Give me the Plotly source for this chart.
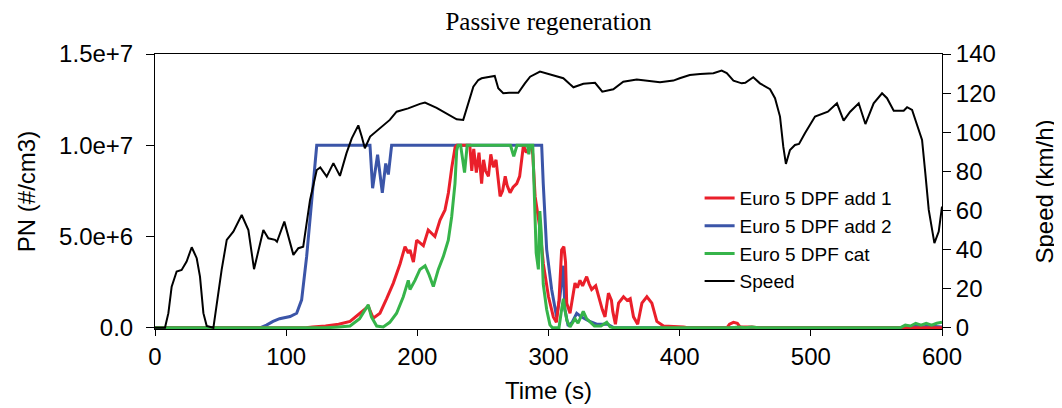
import plotly.graph_objects as go

# ---------------- data ----------------
speed_t = [0, 7.6, 10.2, 12.7, 16.5, 20.3, 24.1, 28, 31.8, 34.3, 36.9, 39.4, 44.5, 47, 50.8, 54.7,
           59.7, 66.1, 71.2, 75.5, 82.6, 86.4, 91.5, 93, 98.6, 105.5, 109.3, 113, 118.2, 123.3, 126,
           130.9, 136, 141, 146, 150, 155, 157.6, 160, 164, 171.5, 179, 184.2, 193, 202, 205.8,
           214.7, 222.4, 230, 235, 238.9, 242.7, 246.5, 249, 255.4, 259, 261.7, 265.5, 270, 277,
           282, 286, 293.5, 301, 311.3, 316.4, 319, 326.6, 335.5, 341, 349.4, 357, 367.3, 385,
           395.2, 400, 407.7, 415.6, 425.7, 432, 435.9, 441, 447.3, 450, 456.1, 461.2, 468.9, 472.7,
           476.5, 479, 481, 484.1, 487.9, 491, 495.5, 503.2, 509.5, 513, 519.9, 525, 530, 536.5,
           541.6, 547.9, 554.3, 558.1, 563.2, 570.8, 573.4, 577.2, 581, 584.8, 587.3, 589.9, 594.2,
           597.5, 600]
speed_v = [0, 0, 7.5, 21, 28.8, 29.6, 33.9, 41.2, 35.6, 26.2, 7.5, 1, 0, 12.6, 29.6, 45,
           49.2, 57.7, 50, 30, 50, 45.8, 45, 44, 54.3, 37.3, 40.7, 41.5, 65.4, 80.7, 82,
           77.3, 84.2, 77.7, 89.3, 96.9, 103.5, 97.8, 91.8, 97.8, 102, 106.3, 110.5, 112.2, 114.5, 115.2,
           112.5, 109.7, 106.6, 106.3, 115.6, 123.3, 126.7, 127.6, 128.4, 128.8, 122.5, 119.9, 120.2, 120.2,
           125, 128.4, 131, 129.6, 127.6, 124.5, 123, 124.8, 125.3, 120.7, 122, 125.8, 127, 125.6,
           126.4, 127.6, 129.3, 129.8, 130.2, 131.5, 130.2, 126.4, 125, 125.3, 128.1, 125, 122, 117.4,
           108, 92.6, 83.8, 90.9, 93.5, 94, 99.5, 108, 109.7, 110.5, 114.8, 105.9, 110.5, 114.8,
           104.2, 114.8, 119.9, 117.4, 111, 111, 112.8, 111.4, 103.7, 96.1, 79, 60.3, 43.3,
           49.2, 62]

add2_t = [0, 80, 85, 90, 95, 100, 103, 108, 111.8, 115.6, 119.5, 123.3, 163.9, 165.9, 169.7, 173.3,
          175.9, 177.9, 180.4, 294.8, 296, 298.6, 302.4, 306.2, 308.7, 310.7, 311.3, 312.5, 315,
          318, 321.5, 325, 330, 336.7, 345, 350, 575, 580, 585, 590, 595, 600]
add2_pn = [0, 0, 0.15, 0.35, 0.5, 0.6, 0.62, 0.8, 1.53, 3.9, 7.0, 10, 10, 7.65, 9.48, 7.4,
           9.0, 8.4, 10, 10, 7.9, 4.3, 2.1, 0.6, 1.7, 3.2, 3.4, 1.0, 0.1,
           0.3, 0.8, 0.6, 0.4, 0.2, 0.2, 0, 0, 0.1, 0.05, 0.1, 0.08, 0.05]

add1_t = [0, 115, 120, 130, 140, 148.7, 156.3, 162.6, 166.4, 171.5, 176.6, 181.7, 186.8, 190.6, 193.1,
          194.4, 197, 199.5, 204.6, 208.3, 213.4, 217.3, 221.1, 223.7, 226.3, 228.8, 230, 240, 241.5,
          243, 245, 247, 249, 250.5, 252, 254.2, 256, 258, 260, 263.1, 265, 267, 268.5, 270.7, 273,
          275.8, 278, 280.9, 283, 287, 288, 289.8, 293.6, 296.1, 300, 303.7, 306, 308, 310, 311.7,
          313, 313.9, 316.4, 320.2, 322, 324, 326, 329.1, 331, 332.9, 336, 339.3, 341, 343.1, 345.7,
          348, 349, 351, 353.4, 357.2, 360, 362.3, 364.8, 368, 371.2, 375, 378.8, 382.6, 387.7, 403,
          406, 436, 438, 441, 444, 446, 455, 460, 600]
add1_pn = [0, 0, 0.05, 0.1, 0.2, 0.35, 0.8, 1.17, 0.53, 0.8, 1.6, 2.45, 3.5, 4.45, 4.1,
           4.27, 3.6, 4.8, 4.5, 5.36, 5.0, 5.9, 6.46, 7.4, 8.8, 9.9, 10, 10, 8.6,
           9.8, 8.5, 9.6, 7.9, 9.2, 8.6, 8.3, 9.5, 8.8, 9.2, 7.2, 7.5, 8.3, 7.8, 7.4, 7.7,
           7.9, 8.3, 10, 9.6, 10, 9.5, 7.2, 5.36, 3.5, 1.7, 0.6, 0.3, 1.5, 4.27, 4.45,
           3.6, 1.35, 0.8, 2.45, 2.2, 2.6, 2.3, 2.8, 2.4, 2.1, 2.3, 1.35, 1.0, 0.6, 1.9,
           1.5, 0.9, 0.2, 1.35, 1.7, 1.5, 1.6, 0.6, 0.2, 1.35, 1.7, 1.35, 0.35, 0.1, 0.05,
           0, 0, 0.2, 0.3, 0.25, 0.05, 0.05, 0, 0]

cat_t = [0, 130, 140, 148.7, 156, 162.6, 165, 169, 174, 179, 184.2, 189.3, 193.1, 194.4, 198.2,
         202, 205.9, 209, 212.2, 216, 219.8, 223.6, 226.2, 228.7, 230, 231, 233, 236, 238, 271,
         273.5, 276, 284, 285, 286, 288, 289.1, 290.6, 292.3, 293.4, 294.5, 296, 298.6, 301.1, 303,
         308, 310, 311.3, 312.5, 314, 316.4, 320.2, 322.5, 326.5, 329, 331.7, 335, 340, 344.4, 347,
         350, 440, 445, 450, 455, 460, 568, 572, 576, 580, 584, 588, 592, 596, 600]
cat_pn = [0, 0, 0.05, 0.1, 0.5, 1.26, 0.6, 0.1, 0.05, 0.3, 0.8, 1.7, 2.6, 2.1, 2.6,
          3.2, 3.4, 2.9, 2.26, 3.2, 3.9, 4.8, 6.1, 7.9, 9.7, 10, 10, 8.5, 10, 10,
          9.4, 10, 10, 9.5, 10, 10, 7.56, 4.1, 3.2, 6.4, 5.2, 2.4, 1.0, 0.16, 0,
          0, 1.0, 1.6, 1.0, 0.4, 0.05, 0.5, 0.25, 0.9, 0.5, 0.3, 0.1, 0.1, 0.3, 0.05,
          0, 0, 0.05, 0, 0.05, 0, 0, 0.15, 0.1, 0.25, 0.15, 0.25, 0.15, 0.25, 0.3]

x_ticks = [0, 100, 200, 300, 400, 500, 600]
pn_ticks = [0, 5e6, 1e7, 1.5e7]
pn_tick_labels = ["0.0", "5.0e+6", "1.0e+7", "1.5e+7"]
speed_ticks = [0, 20, 40, 60, 80, 100, 120, 140]

RED = "#ea1f2a"
BLUE = "#3b55a8"
GREEN = "#36b44a"

fig = go.Figure()
fig.add_trace(go.Scatter(x=add2_t, y=[v * 1e6 for v in add2_pn], mode="lines", name="Euro 5 DPF add 2",
                         line=dict(color=BLUE, width=3), legendrank=2))
fig.add_trace(go.Scatter(x=add1_t, y=[v * 1e6 for v in add1_pn], mode="lines", name="Euro 5 DPF add 1",
                         line=dict(color=RED, width=3), legendrank=1))
fig.add_trace(go.Scatter(x=cat_t, y=[v * 1e6 for v in cat_pn], mode="lines", name="Euro 5 DPF cat",
                         line=dict(color=GREEN, width=3), legendrank=3))
fig.add_trace(go.Scatter(x=speed_t, y=speed_v, mode="lines", name="Speed", yaxis="y2",
                         line=dict(color="black", width=2), legendrank=4))

font_s = "Liberation Sans, Arial, sans-serif"

# the page body has an 8px default margin, so the figure is offset by 8px
fig.update_layout(
    width=1062, height=408,
    margin=dict(l=147, r=128, t=46, b=87, autoexpand=False),
    paper_bgcolor="white", plot_bgcolor="white",
    showlegend=True,
    title=dict(text="Passive regeneration", x=0.5, xref="paper", xanchor="center",
               y=0.968, yref="container", yanchor="middle",
               font=dict(family="Liberation Serif, Times New Roman, serif", size=25, color="black")),
    font=dict(family=font_s, size=24, color="black"),
    legend=dict(x=0.692, y=0.545, xanchor="left", yanchor="top", bgcolor="rgba(0,0,0,0)",
                font=dict(family=font_s, size=19, color="black"), tracegroupgap=0),
    xaxis=dict(range=[0, 600], tickvals=x_ticks, ticks="outside", ticklen=6, tickcolor="black",
               showline=True, linecolor="black", linewidth=1, mirror=True, showgrid=False,
               zeroline=False, automargin=False,
               title=dict(text="Time (s)", standoff=13, font=dict(size=24)),
               tickfont=dict(size=24)),
    yaxis=dict(range=[-0.6 * 1.5e7 / 140, 1.5e7], tickvals=pn_ticks, ticktext=pn_tick_labels,
               ticks="outside", ticklen=8, tickcolor="black", showline=True, linecolor="black",
               linewidth=1, showgrid=False, zeroline=False, ticklabelstandoff=8, automargin=False,
               title=dict(text="PN (#/cm3)", standoff=16, font=dict(size=24)), tickfont=dict(size=24)),
    yaxis2=dict(range=[-0.6, 140], tickvals=speed_ticks, overlaying="y", side="right",
                ticks="outside", ticklen=8, tickcolor="black", showline=True, linecolor="black",
                linewidth=1, showgrid=False, zeroline=False, ticklabelstandoff=0, automargin=False,
                tickprefix=" ",
                title=dict(text="Speed (km/h)", standoff=41, font=dict(size=24)), tickfont=dict(size=24)),
)

fig.write_html("out.html")
